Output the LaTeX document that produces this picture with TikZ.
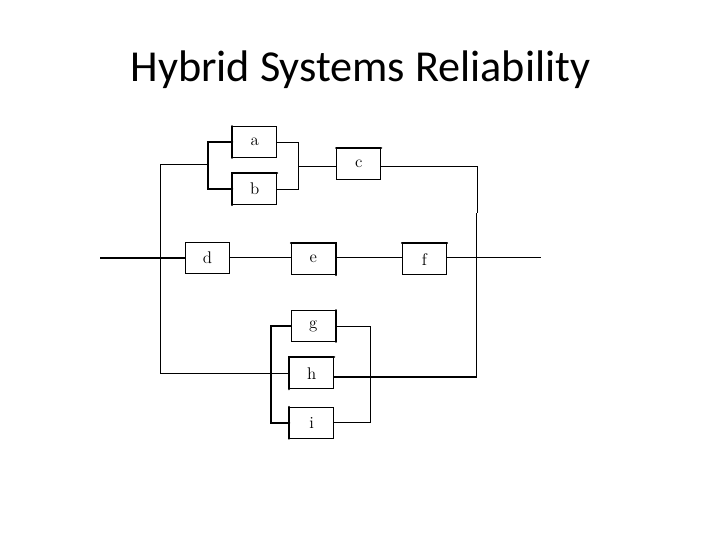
\documentclass[tikz,border=0pt]{standalone}
\usepackage{fontspec}
\newfontfamily\titulofonte{Carlito}
\usetikzlibrary{calc}
\tikzset{
  rbloco/.style={draw=black, fill=white, line width=0.7pt, minimum width=1.1cm, minimum height=0.77cm,
                 inner sep=0pt, font=\large},
  rlinha/.style={draw=black, line width=0.7pt},
  rgrossa/.style={draw=black, line width=1.5pt, line cap=round},
  rtitulo/.style={font=\titulofonte\fontsize{31.45}{36}\selectfont, text=black},
}
\begin{document}
\begin{tikzpicture}[x=0.025cm,y=-0.025cm]
        \useasboundingbox[fill=white] (0,0) rectangle (720,540);
        \node[rtitulo] (tit) at (360.5,69.5) {Hybrid Systems Reliability};
        % blocos
        \node[rbloco] (a) at (254.7,142) {a};
        \node[rbloco] (b) at (254.7,189.2) {b};
        \node[rbloco] (c) at (358.7,164.2) {c};
        \node[rbloco] (d) at (207.5,257.8) {d};
        \node[rbloco] (e) at (313.3,259.2) {e};
        \node[rbloco] (f) at (424.5,259.2) {f};
        \node[rbloco] (g) at (313.3,326) {g};
        \node[rbloco] (h) at (311.7,373.3) {h};
        \node[rbloco] (i) at (311.7,422.8) {i};
        % pontos livres
        \coordinate (ent) at (100,257.8);
        \coordinate (sai) at (541,257.8);
        \coordinate (esq) at (160.7,164.3);
        \coordinate (ab1) at (208.3,164.3);
        \coordinate (ab2) at (298.3,166.7);
        \coordinate (gi1) at (270.7,373.3);
        \coordinate (gi2) at (370.3,376.7);
        \coordinate (dir1) at (477.3,213);
        \coordinate (dir2) at (476.5,213);
        \coordinate (dir3) at (476.5,376.7);
        % ramo de cima
        \draw[rlinha] (esq) -- (ab1);
        \draw[rgrossa] (a.west) -| (ab1) |- (b.west);
        \draw[rlinha] (a.east) -| (ab2) |- (b.east);
        \draw[rlinha] (ab2) -- (ab2 -| c.west);
        \draw[rlinha] (c.east |- ab2) -| (dir1);
        % ramo do meio
        \draw[rgrossa, line cap=butt] (ent) -- (d.west);
        \draw[rlinha] (d.east) -- (d.east -| e.west);
        \draw[rlinha] (e.east |- d.east) -- (f.west |- d.east);
        \draw[rlinha] (f.east |- d.east) -- (sai);
        % ramo de baixo
        \draw[rlinha] (esq) |- (h.west);
        \draw[rgrossa] (g.west) -| (gi1) |- (i.west);
        \draw[rlinha] (g.east) -| (gi2) |- (i.east);
        \draw[rgrossa, line cap=butt] (h.east |- gi2) -- (dir3);
        \draw[rlinha] (dir2) -- (dir3);
        % lados mais grossos
        \draw[rgrossa] (a.north west) -- (a.south west);
        \draw[rgrossa] (b.south west) |- (b.north east);
        \draw[rgrossa] (c.north west) -- (c.north east);
        \draw[rgrossa] (e.north west) -| (e.south east);
        \draw[rgrossa] (f.north west) -- (f.north east);
        \draw[rgrossa] (g.north east) -- (g.south east);
        \draw[rgrossa] (h.south west) |- (h.north east);
        \draw[rgrossa] (i.north west) -- (i.south west);
\end{tikzpicture}
\end{document}
